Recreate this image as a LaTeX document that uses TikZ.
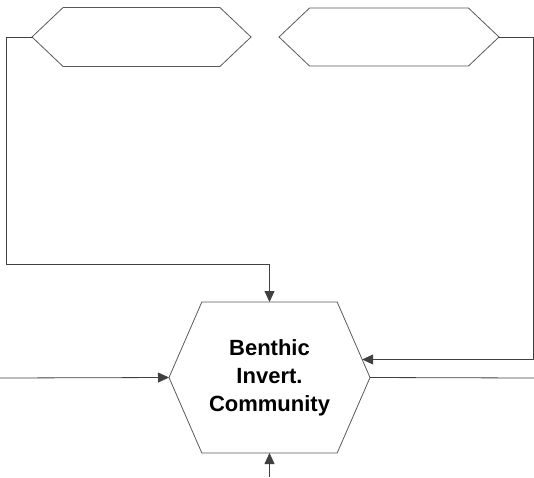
\documentclass[tikz,border=0pt]{standalone}
\usepackage{fontspec}
\setmainfont{Liberation Sans}
\usetikzlibrary{arrows.meta,shapes.symbols}

\begin{document}
\begin{tikzpicture}[
                        x=1pt, y=-1pt,
                        >={Triangle[length=11pt,width=10pt]},
                        hexbox/.style={signal, signal to=west and east, draw=black!65,
                            line width=0.8pt, inner sep=0pt, outer sep=0pt},
                        link/.style={draw=black!75, line width=0.8pt}
                    ]
                    \useasboundingbox (0,0) rectangle (534,477);
                    % Blocks
                    \node [hexbox, signal pointer angle=87, minimum width=219, minimum height=59] (driverA) at (141.5,37) {};
                    \node [hexbox, signal pointer angle=87, minimum width=220, minimum height=58] (driverB) at (389,37) {};
                    \node [hexbox, signal pointer angle=133, minimum width=201, minimum height=151,
                           font=\bfseries\fontsize{22}{28}\selectfont, align=center] (benthic) at (269.5,377.5) {Benthic\\Invert.\\Community};
                    \coordinate (lbend) at (6,264);
                    \coordinate (rbend) at (533,37);
                    \coordinate (lin) at (0,378);
                    \coordinate (rout) at (534,378);
                    \coordinate (bin) at (269.5,477);

                    % Connections
                    \draw [link,->] (driverA.west) -| (lbend) -| (benthic.north);
                    \draw [link,->] (driverB.east) -- (rbend) |- (benthic.11);
                    \draw [link,->] (lin) -- (benthic.west);
                    \draw [link] (benthic.east) -- (rout);
                    \draw [link,->] (bin) -- (benthic.south);
                \end{tikzpicture}
\end{document}
